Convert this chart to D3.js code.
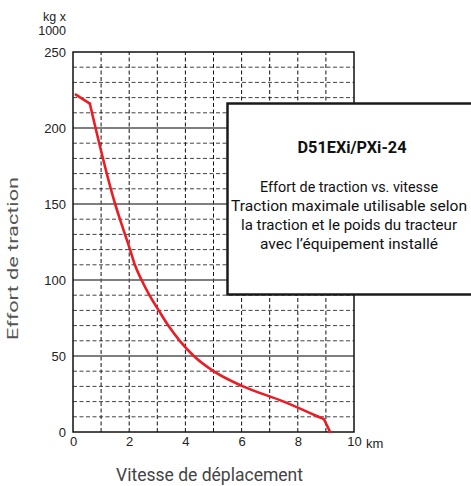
<!DOCTYPE html>
<html>
<head>
<meta charset="utf-8">
<script src="https://d3js.org/d3.v7.min.js"></script>
<style>
  body { margin: 0; background: #fff; }
  svg { display: block; }
  .tick text { font: 13px "Liberation Sans", Arial, sans-serif; fill: #222; }
  .cond { font-family: Roboto, "Liberation Sans", sans-serif; }
</style>
</head>
<body>
<div id="chart"></div>
<script>
// vitesse (km/h) et effort de traction (kg x 1000)
var speed = [0.1, 0.6, 1.5, 1.67, 1.85, 2.03, 2.2, 2.44, 2.72, 3.05, 3.39, 3.8, 4.3, 5.0, 6.05, 7.5, 8.73, 8.93, 9.15];
var force = [222, 216, 150, 140, 130, 120, 110, 100, 90, 80, 70, 60, 50, 40, 30, 20, 10, 8.5, 0];

var xTicks = [0, 2, 4, 6, 8, 10];
var yTicks = [0, 50, 100, 150, 200, 250];
var boxTitle = "D51EXi/PXi-24";
var boxLines = ["Effort de traction vs. vitesse",
                "Traction maximale utilisable selon",
                "la traction et le poids du tracteur",
                "avec l\u2019équipement installé"];

var W = 471, H = 486;
var svg = d3.select("#chart").append("svg").attr("width", W).attr("height", H);

var x = d3.scaleLinear().domain([0, 10]).range([73, 354]);
var y = d3.scaleLinear().domain([0, 250]).range([432, 52]);

// grille pointillée
var g = svg.append("g");
g.selectAll("line.hy").data(d3.range(10, 250, 10).filter(function(v) { return v % 50 !== 0; }))
  .enter().append("line")
  .attr("x1", x(0)).attr("x2", x(10))
  .attr("y1", function(d) { return y(d); }).attr("y2", function(d) { return y(d); })
  .attr("stroke", "#444").attr("stroke-width", 1).attr("stroke-dasharray", "4,2.5");
g.selectAll("line.vx").data(d3.range(1, 10))
  .enter().append("line")
  .attr("x1", function(d) { return x(d); }).attr("x2", function(d) { return x(d); })
  .attr("y1", y(0)).attr("y2", y(250))
  .attr("stroke", "#111").attr("stroke-width", 1).attr("stroke-dasharray", "4,2.5");
// lignes pleines tous les 50
g.selectAll("line.sy").data([50, 100, 150, 200])
  .enter().append("line")
  .attr("x1", x(0)).attr("x2", x(10))
  .attr("y1", function(d) { return y(d); }).attr("y2", function(d) { return y(d); })
  .attr("stroke", "#555").attr("stroke-width", 1.5);

// cadre
svg.append("rect")
  .attr("x", x(0)).attr("y", y(250))
  .attr("width", x(10) - x(0)).attr("height", y(0) - y(250))
  .attr("fill", "none").attr("stroke", "#111").attr("stroke-width", 1.5);

// courbe : segments droits aux extrémités, lissée au milieu
var pts = speed.map(function(s, i) { return [s, force[i]]; });
var n = pts.length;
var lin = d3.line()
  .x(function(d) { return x(d[0]); })
  .y(function(d) { return y(d[1]); });
var smooth = d3.line().curve(d3.curveMonotoneX)
  .x(function(d) { return x(d[0]); })
  .y(function(d) { return y(d[1]); });
[lin(pts.slice(0, 2)), smooth(pts.slice(1, n - 2)), lin(pts.slice(n - 3))].forEach(function(d) {
  svg.append("path").attr("d", d)
    .attr("fill", "none").attr("stroke", "#ec1c24").attr("stroke-width", 2.6)
    .attr("stroke-linejoin", "round").attr("stroke-linecap", "round");
});

// axes
var ax = svg.append("g").attr("transform", "translate(0," + y(0) + ")")
  .call(d3.axisBottom(x).tickValues(xTicks).tickSize(0).tickPadding(5).tickFormat(d3.format("d")));
ax.select(".domain").remove();
svg.append("text").attr("x", 366).attr("y", 448)
  .style("font", "13px 'Liberation Sans', Arial, sans-serif").attr("fill", "#222").text("km");

var ay = svg.append("g").attr("transform", "translate(" + x(0) + ",0)")
  .call(d3.axisLeft(y).tickValues(yTicks).tickSize(0).tickPadding(7).tickFormat(d3.format("d")));
ay.select(".domain").remove();

svg.append("text").attr("x", 66).attr("y", 21).attr("text-anchor", "end")
  .style("font", "12.5px 'Liberation Sans', Arial, sans-serif").attr("fill", "#222").text("kg x");
svg.append("text").attr("x", 66).attr("y", 35).attr("text-anchor", "end")
  .style("font", "12.5px 'Liberation Sans', Arial, sans-serif").attr("fill", "#222").text("1000");

// titres des axes
svg.append("text").attr("class", "cond")
  .attr("x", 116).attr("y", 481)
  .attr("textLength", 187).attr("lengthAdjust", "spacingAndGlyphs")
  .style("font-size", "18px").attr("fill", "#444").text("Vitesse de déplacement");
svg.append("text").attr("class", "cond")
  .attr("transform", "translate(18,340) rotate(-90)")
  .attr("textLength", 163).attr("lengthAdjust", "spacingAndGlyphs")
  .style("font-size", "14.5px").attr("fill", "#555").text("Effort de traction");

// encadré
svg.append("rect")
  .attr("x", 227.5).attr("y", 103.5).attr("width", 250).attr("height", 191)
  .attr("fill", "#fff").attr("stroke", "#1a1a1a").attr("stroke-width", 2.5);
svg.append("text").attr("class", "cond")
  .attr("x", 352).attr("y", 153).attr("text-anchor", "middle")
  .attr("textLength", 109).attr("lengthAdjust", "spacingAndGlyphs")
  .style("font-size", "17px").style("font-weight", "bold").attr("fill", "#111").text(boxTitle);
var widths = [178, 236, 216, 178];
svg.selectAll("text.bl").data(boxLines).enter().append("text")
  .attr("class", "cond")
  .attr("x", 349).attr("y", function(d, i) { return 192 + i * 19; })
  .attr("text-anchor", "middle")
  .attr("textLength", function(d, i) { return widths[i]; }).attr("lengthAdjust", "spacingAndGlyphs")
  .style("font-size", "15.5px").attr("fill", "#111")
  .text(function(d) { return d; });
</script>
</body>
</html>
